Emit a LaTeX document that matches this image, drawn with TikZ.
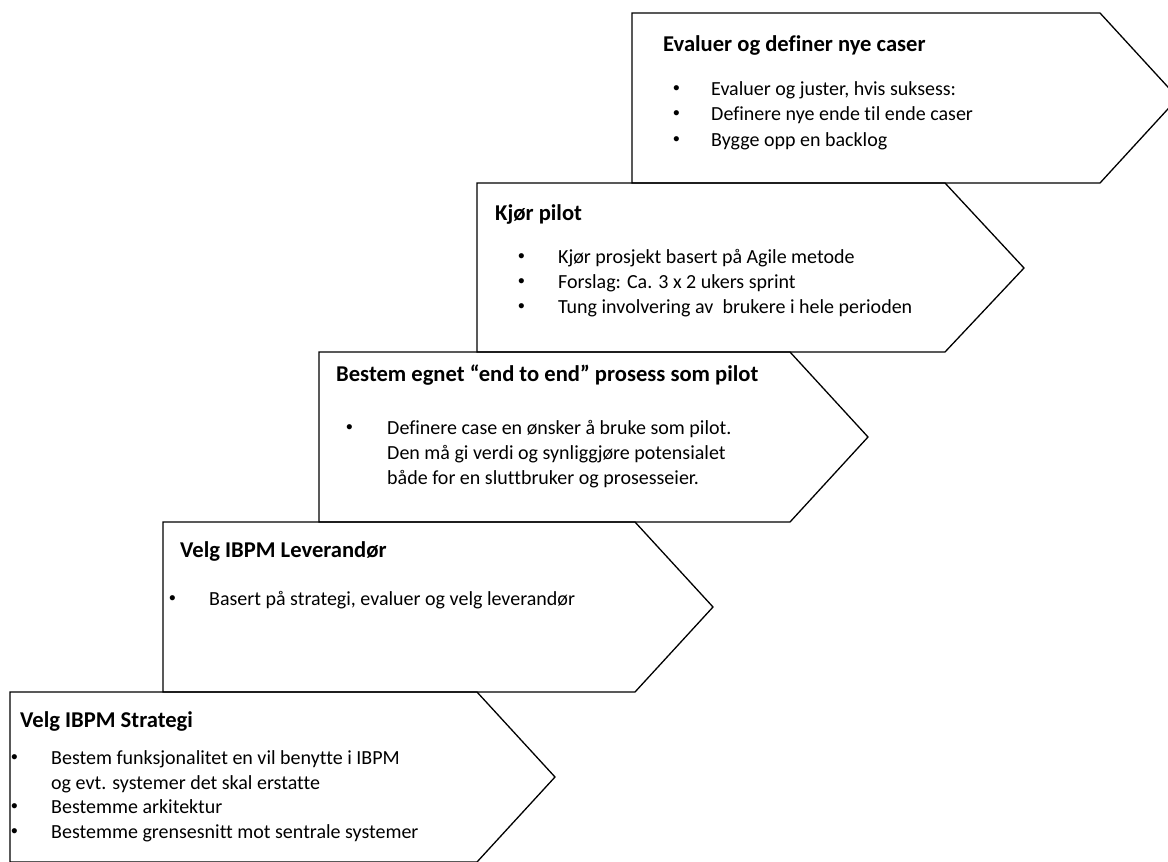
\documentclass[tikz,border=0pt]{standalone}
\usepackage{fontspec}
\setmainfont{Carlito}[Ligatures=NoCommon]
\newfontfamily\bulletfont{Liberation Sans}
\begin{document}
\begin{tikzpicture}[x=1pt,y=-1pt,
  stepshape/.style={draw=black,line width=1.3pt,line join=miter},
  steptitle/.style={anchor=base west,inner sep=0pt,font=\bfseries\fontsize{22.6}{26}\selectfont},
  stepbody/.style={anchor=base west,inner sep=0pt,font=\fontsize{20}{24}\selectfont},
  bul/.style={anchor=base west,inner sep=0pt,font=\bulletfont\fontsize{19}{22}\selectfont}]
\useasboundingbox (0,0) rectangle (1168,862);

% the five step arrows, bottom-left to top-right
\draw[stepshape] (10,692) -- (477,692) -- (555,777) -- (477,862) -- (10,862) -- cycle;
\draw[stepshape] (163,522) -- (635,522) -- (713,607) -- (635,692) -- (163,692) -- cycle;
\draw[stepshape] (319,352) -- (790,352) -- (868,437) -- (790,522) -- (319,522) -- cycle;
\draw[stepshape] (477,183) -- (945,183) -- (1024,268) -- (945,352) -- (477,352) -- cycle;
\draw[stepshape] (632,13) -- (1100,13) -- (1178,98) -- (1100,183) -- (632,183) -- cycle;

% step 5
\node[steptitle] (t5) at (663,51) {Evaluer og definer nye caser};
\node[bul] (b5a) at (673,94) {•};
\node[stepbody] (l5a) at (711,95) {Evaluer og juster, hvis suksess:};
\node[bul] (b5b) at (673,119) {•};
\node[stepbody] (l5b) at (711,120) {Definere nye ende til ende caser};
\node[bul] (b5c) at (673,145) {•};
\node[stepbody] (l5c) at (711,146) {Bygge opp en backlog};

% step 4
\node[steptitle] (t4) at (495,220) {Kjør pilot};
\node[bul] (b4a) at (518,262) {•};
\node[stepbody] (l4a) at (558,263) {Kjør prosjekt basert på Agile metode};
\node[bul] (b4b) at (518,287) {•};
\node[stepbody] (l4b) at (558,288) {Forslag: Ca. 3 x 2 ukers sprint};
\node[bul] (b4c) at (518,312) {•};
\node[stepbody] (l4c) at (558,313) {Tung involvering av\ \ brukere i hele perioden};

% step 3
\node[steptitle] (t3) at (336,381) {Bestem egnet “end to end” prosess som pilot};
\node[bul] (b3a) at (346,433) {•};
\node[stepbody] (l3a) at (387,434) {Definere case en ønsker å bruke som pilot.};
\node[stepbody] (l3b) at (387,459) {Den må gi verdi og synliggjøre potensialet};
\node[stepbody] (l3c) at (387,484) {både for en sluttbruker og prosesseier.};

% step 2
\node[steptitle] (t2) at (180,557) {Velg IBPM Leverandør};
\node[bul] (b2a) at (169,604) {•};
\node[stepbody] (l2a) at (209,605) {Basert på strategi, evaluer og velg leverandør};

% step 1
\node[steptitle] (t1) at (20,727) {Velg IBPM Strategi};
\node[bul] (b1a) at (11,763) {•};
\node[stepbody] (l1a) at (51,764) {Bestem funksjonalitet en vil benytte i IBPM};
\node[stepbody] (l1b) at (51,789) {og evt. systemer det skal erstatte};
\node[bul] (b1c) at (11,812) {•};
\node[stepbody] (l1c) at (51,813) {Bestemme arkitektur};
\node[bul] (b1d) at (11,837) {•};
\node[stepbody] (l1d) at (51,838) {Bestemme grensesnitt mot sentrale systemer};
\end{tikzpicture}
\end{document}
